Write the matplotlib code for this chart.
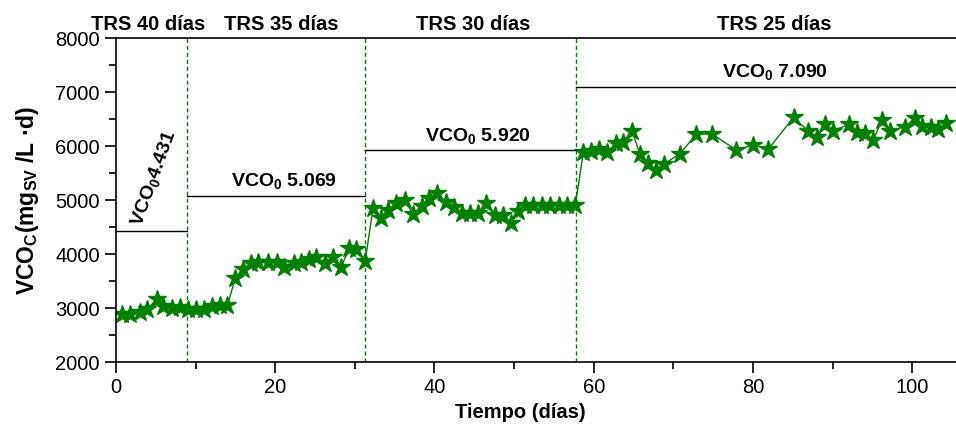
import matplotlib.pyplot as plt
from matplotlib.ticker import MultipleLocator

plt.rcParams['font.family'] = ['Liberation Sans', 'DejaVu Sans']
plt.rcParams['mathtext.fontset'] = 'custom'
plt.rcParams['mathtext.rm'] = 'Liberation Sans:bold'
plt.rcParams['mathtext.default'] = 'rm'

# daily VCO measurements
dias = [0.7, 1.8, 3.0, 3.9, 5.1, 5.9, 7.0, 8.0, 9.1, 10.1, 11.0, 12.0, 13.1, 14.0,
        15.0, 16.0, 17.0, 17.9, 19.1, 20.2, 21.1, 22.3, 23.2, 24.2, 25.1, 26.2, 27.2,
        28.3, 29.3, 30.2, 31.3,
        32.3, 33.3, 34.2, 35.2, 36.3, 37.3, 38.4, 39.3, 40.3, 41.4, 42.5, 43.4, 44.5,
        45.5, 46.5, 47.6, 48.6, 49.6, 50.5, 51.4, 52.4, 53.5, 54.5, 55.6, 56.6, 57.7,
        58.7, 59.7, 60.7, 61.7, 62.8, 63.7, 64.8, 65.8, 66.8, 67.8, 68.8, 70.8, 72.9,
        74.9, 77.9, 80.0, 81.9, 85.1, 86.9, 88.1, 89.1, 90.1, 92.1, 93.1, 94.1, 95.1,
        96.2, 97.2, 99.1, 100.3, 101.2, 102.3, 103.2, 104.3]
vco = [2883, 2889, 2931, 2976, 3161, 3037, 2994, 3024, 2976, 2976, 2976, 3037, 3050, 3050,
       3561, 3717, 3828, 3858, 3858, 3858, 3765, 3828, 3858, 3901, 3951, 3828, 3951,
       3765, 4105, 4086, 3877,
       4858, 4661, 4815, 4938, 5000, 4735, 4895, 5043, 5124, 4969, 4877, 4753, 4753,
       4753, 4951, 4722, 4722, 4580, 4802, 4907, 4907, 4907, 4907, 4907, 4907, 4907,
       5895, 5913, 5938, 5895, 6049, 6080, 6284, 5852, 5679, 5556, 5667, 5852, 6222,
       6222, 5926, 6019, 5938, 6531, 6284, 6161, 6407, 6284, 6407, 6265, 6235, 6111,
       6481, 6284, 6358, 6512, 6370, 6346, 6309, 6432]

# TRS stages: boundaries, mean VCO0 and labels
cambios = [8.9, 31.3, 57.8]
tramos = [(0, 8.9), (8.9, 31.3), (31.3, 57.8), (57.8, 105.5)]
vco0 = [4431, 5069, 5920, 7090]
vco0_txt = ['4.431', '5.069', '5.920', '7.090']
vco0_pos = [(4.8, 5400), (21.1, 5160), (45.4, 6010), (82.8, 7180)]
trs = ['TRS 40 días', 'TRS 35 días', 'TRS 30 días', 'TRS 25 días']
trs_x = [4.0, 20.7, 44.9, 82.7]

fig = plt.figure(figsize=(9.56, 4.3), dpi=100)
ax = fig.add_axes([0.1213, 0.158, 0.8787, 0.7535])

ax.plot(dias, vco, color='#008000', lw=1, marker='*', ms=13.5, mec='#008000', mfc='#008000')

for xc in cambios:
    ax.axvline(xc, color='#008000', lw=1, ls=(0, (3, 2)))

for (a, b), v in zip(tramos, vco0):
    ax.plot([a, b], [v, v], color='black', lw=1)

fs = 14
for i, ((xt, yt), t) in enumerate(zip(vco0_pos, vco0_txt)):
    if i == 0:
        ax.text(xt, yt, 'VCO$_0$' + t, rotation=70, ha='center', va='center',
                fontsize=fs, fontweight='bold')
    else:
        ax.text(xt, yt, 'VCO$_0$ ' + t, ha='center', va='bottom', fontsize=fs, fontweight='bold')

for xt, t in zip(trs_x, trs):
    ax.text(xt, 8080, t, ha='center', va='bottom', fontsize=fs + 0.5, fontweight='bold')

ax.set_xlim(0, 105.5)
ax.set_ylim(2000, 8000)
ax.xaxis.set_major_locator(MultipleLocator(20))
ax.xaxis.set_minor_locator(MultipleLocator(10))
ax.yaxis.set_major_locator(MultipleLocator(1000))
ax.yaxis.set_minor_locator(MultipleLocator(500))
ax.tick_params(which='major', direction='out', length=8, width=1.2, labelsize=14.5)
ax.tick_params(which='minor', direction='out', length=5, width=1.2)
ax.spines['right'].set_visible(False)
for s in ['left', 'bottom', 'top']:
    ax.spines[s].set_linewidth(1.2)

ax.set_xlabel('Tiempo (días)', fontsize=14.5, fontweight='bold', labelpad=4, x=0.481)
ax.set_ylabel('VCO$_C$(mg$_{SV}$ /L ·d)', fontsize=16.5, fontweight='bold', labelpad=10)

fig.savefig('out.png', dpi=100)
